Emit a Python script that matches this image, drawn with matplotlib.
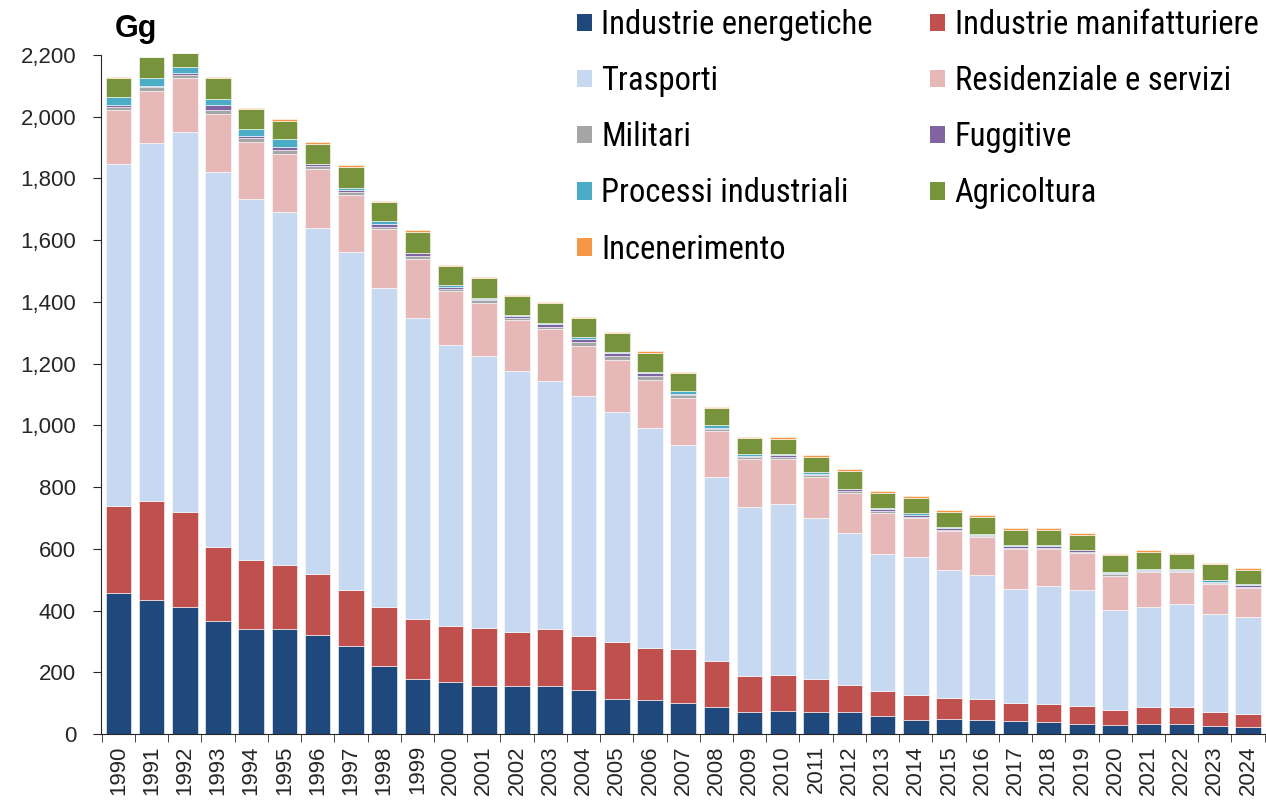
import matplotlib.pyplot as plt
from matplotlib.ticker import FuncFormatter
from matplotlib.patches import Patch
import numpy as np

years = [str(y) for y in range(1990, 2025)]

# Gg per sector, stacked bottom -> top
energetiche = [456, 435, 410, 367, 339, 339, 321, 285, 222, 179, 167, 154, 154, 154, 142, 113, 109, 100,
               87, 70, 76, 70, 70, 59, 47, 50, 47, 42, 38, 34, 28, 34, 34, 27, 23]
manifatturiere = [282, 320, 308, 238, 224, 209, 197, 183, 191, 193, 184, 188, 175, 185, 175, 184, 171, 176,
                  151, 118, 116, 109, 88, 79, 78, 67, 65, 59, 58, 57, 50, 54, 54, 43, 43]
trasporti = [1109, 1159, 1232, 1217, 1169, 1144, 1120, 1093, 1031, 976, 909, 883, 847, 805, 778, 747, 710, 660,
             595, 548, 553, 522, 492, 446, 449, 414, 403, 369, 385, 377, 324, 325, 334, 319, 314]
residenziale = [175, 169, 174, 188, 186, 188, 191, 185, 191, 192, 175, 173, 164, 168, 162, 167, 158, 154,
                149, 154, 146, 132, 132, 132, 126, 127, 122, 130, 119, 118, 111, 112, 103, 96, 92]
militari = [11, 14, 12, 12, 13, 13, 11, 10, 9, 9, 7, 7, 8, 8, 13, 13, 13, 8,
            5, 6, 7, 5, 6, 8, 3, 2, 3, 3, 4, 3, 4, 3, 3, 3, 4]
fuggitive = [5, 3, 5, 16, 6, 8, 6, 8, 9, 9, 5, 6, 6, 8, 9, 9, 8, 5,
             5, 5, 5, 5, 5, 5, 5, 7, 5, 6, 4, 6, 5, 4, 3, 5, 7]
processi = [25, 24, 21, 19, 22, 26, 2, 4, 8, 2, 8, 3, 4, 3, 6, 6, 4, 8,
            8, 5, 5, 5, 2, 3, 7, 3, 4, 2, 6, 2, 3, 4, 5, 7, 4]
agricoltura = [63, 68, 43, 69, 66, 60, 65, 70, 62, 68, 62, 64, 60, 65, 64, 59, 63, 59,
               55, 52, 49, 50, 57, 50, 51, 50, 54, 51, 48, 48, 54, 55, 46, 50, 44]
incenerimento = [4, 3, 1, 4, 4, 4, 4, 4, 4, 4, 4, 4, 4, 4, 3, 4, 4, 4,
                 3, 3, 4, 5, 6, 5, 4, 5, 5, 5, 5, 5, 5, 5, 5, 5, 6]

series = [
    ("Industrie energetiche", energetiche, "#1F497D"),
    ("Industrie manifatturiere", manifatturiere, "#C0504D"),
    ("Trasporti", trasporti, "#C6D9F1"),
    ("Residenziale e servizi", residenziale, "#E6B9B8"),
    ("Militari", militari, "#A6A6A6"),
    ("Fuggitive", fuggitive, "#8064A2"),
    ("Processi industriali", processi, "#4BACC6"),
    ("Agricoltura", agricoltura, "#77933C"),
    ("Incenerimento", incenerimento, "#F79646"),
]

plt.rcParams['font.family'] = ['Liberation Sans', 'DejaVu Sans']

fig = plt.figure(figsize=(12.66, 8.06), dpi=100)
ax = fig.add_axes([0.0798, 0.0893, 0.9194, 0.8425])

x = np.arange(len(years))
bottom = np.zeros(len(years))
handles = {}
for name, vals, col in series:
    vals = np.array(vals, dtype=float)
    ax.bar(x, vals, 0.77, bottom=bottom, color=col, edgecolor='white', linewidth=0.4, clip_on=False)
    handles[name] = Patch(facecolor=col, edgecolor='none', label=name)
    bottom += vals

ax.set_xlim(-0.52, len(years) - 0.49)
ax.set_ylim(0, 2200)
ax.set_yticks(np.arange(0, 2201, 200))
ax.yaxis.set_major_formatter(FuncFormatter(lambda v, p: f"{int(v):,}"))
ax.set_xticks(x)
ax.set_xticklabels(years, rotation=90)
ax.set_xticks(np.arange(-0.5, len(years)), minor=True)
ax.tick_params(axis='x', which='major', length=0, pad=8, labelsize=16, colors='#262626')
ax.tick_params(axis='x', which='minor', length=6, color='#262626')
ax.tick_params(axis='y', length=6, labelsize=16, colors='#262626', pad=12)
for s in ['top', 'right']:
    ax.spines[s].set_visible(False)
for s in ['left', 'bottom']:
    ax.spines[s].set_color('#262626')

fig.text(0.091, 0.964, "Gg", fontsize=22, fontweight='bold', ha='left', va='center')

# legend row by row: column 1 then column 2
order = ["Industrie energetiche", "Trasporti", "Militari", "Processi industriali", "Incenerimento",
         "Industrie manifatturiere", "Residenziale e servizi", "Fuggitive", "Agricoltura"]
leg = fig.legend([handles[n] for n in order], order, ncol=2, loc='upper left',
                 bbox_to_anchor=(577 / 1266, 1 - 9 / 806), frameon=False,
                 handlelength=0.45, handleheight=0.45, handletextpad=0.3,
                 labelspacing=0.74, columnspacing=1.75, borderpad=0, borderaxespad=0,
                 prop={'family': ['Liberation Sans Narrow', 'Roboto Condensed', 'DejaVu Sans Condensed', 'DejaVu Sans'], 'size': 23.5})

fig.savefig("out.png", dpi=100)
